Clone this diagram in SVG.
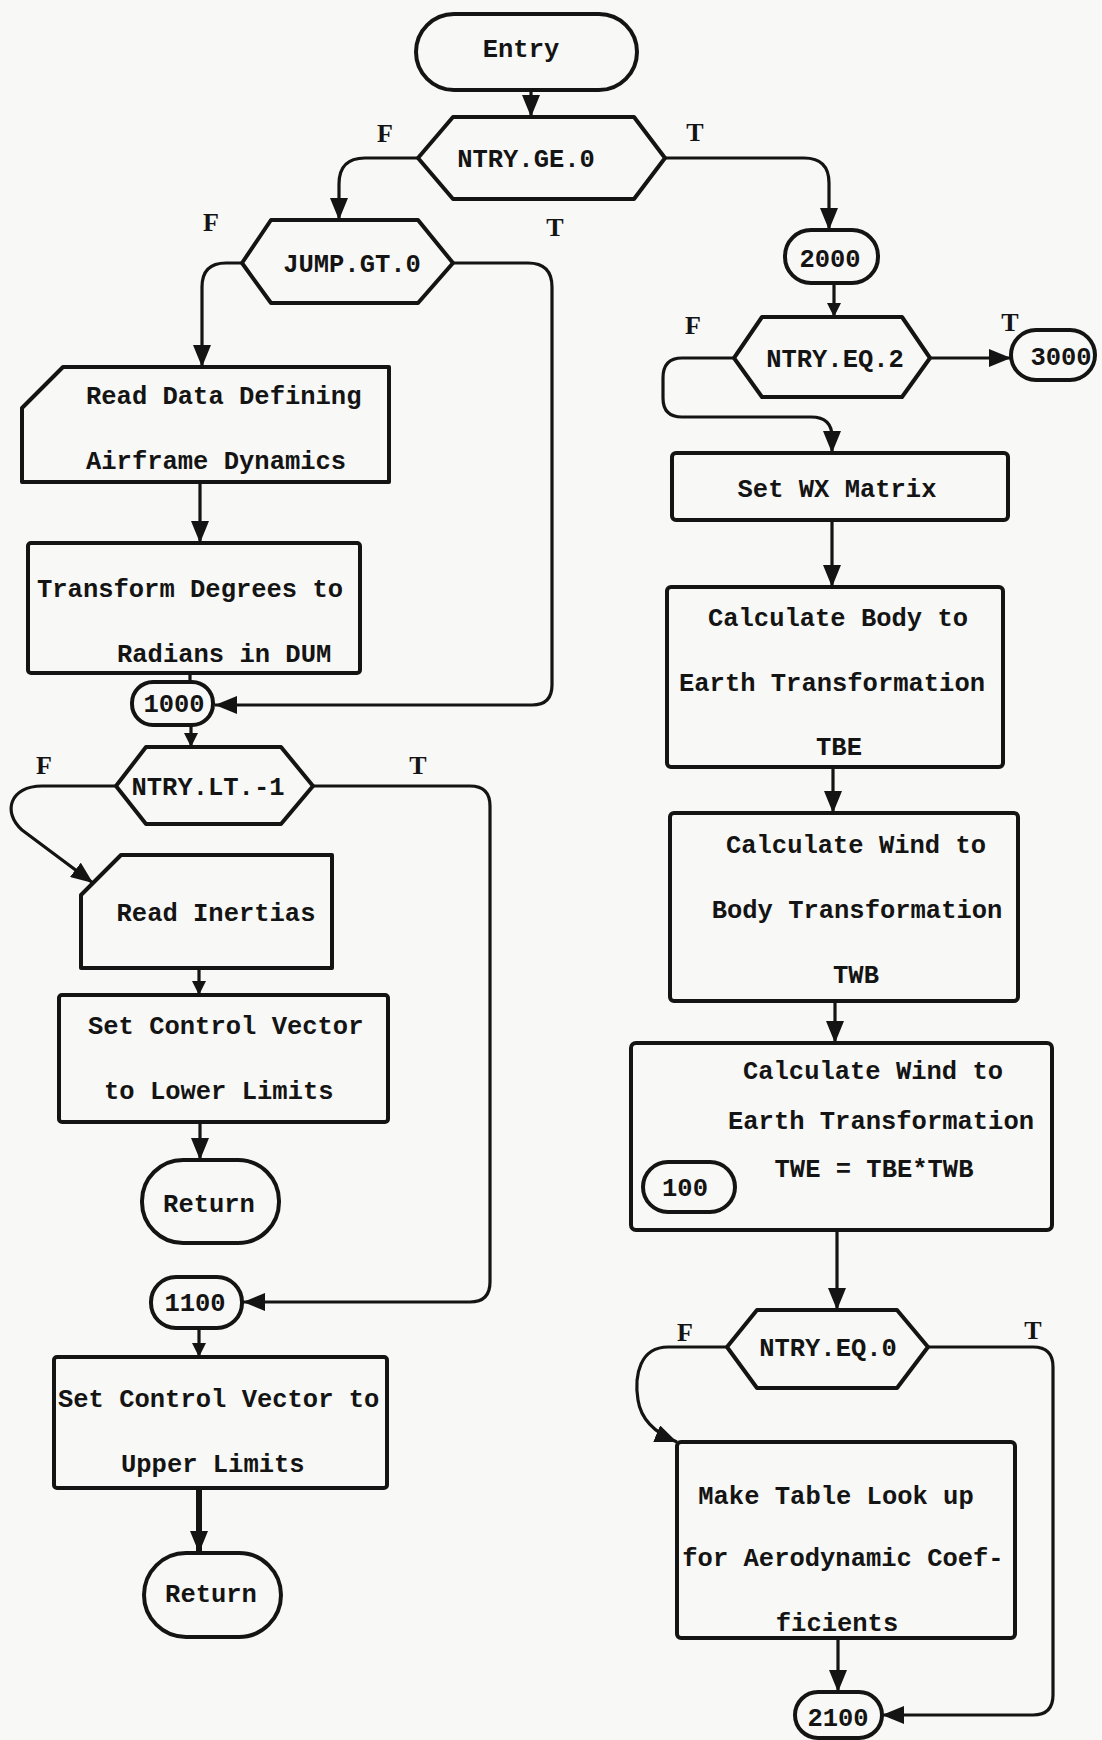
<svg xmlns="http://www.w3.org/2000/svg" width="1102" height="1740" viewBox="0 0 1102 1740">
<style>
.bg{fill:#f8f8f6}
.n{fill:none;stroke:#141414;stroke-width:4;stroke-linejoin:round}
.c{fill:none;stroke:#141414;stroke-width:3.2;stroke-linejoin:round}
.thick{stroke-width:6}
text{font-family:"Liberation Mono","DejaVu Sans Mono",monospace;font-weight:bold;font-size:25.5px;fill:#141414}
.m{text-anchor:middle}
.lbl{font-family:"Liberation Serif","DejaVu Serif",serif;font-size:26px}
</style>
<defs>
<marker id="ah" markerUnits="userSpaceOnUse" markerWidth="24" markerHeight="18" refX="22" refY="9" orient="auto" viewBox="0 0 24 18">
<path d="M0,0 L22,9 L0,18 Z" fill="#141414"/>
</marker>
<marker id="ahs" markerUnits="userSpaceOnUse" markerWidth="16" markerHeight="14" refX="14" refY="7" orient="auto" viewBox="0 0 16 14">
<path d="M0,0 L14,7 L0,14 Z" fill="#141414"/>
</marker>
</defs>
<rect class="bg" x="0" y="0" width="1102" height="1740"/>

<g id="connectors">
<path class="c" d="M531,90 L531,117" marker-end="url(#ah)"/>
<path class="c" d="M418,158 L365,158 Q339,158 339,184 L339,220" marker-end="url(#ah)"/>
<path class="c" d="M665,158 L804,158 Q829,158 829,183 L829,230" marker-end="url(#ah)"/>
<path class="c" d="M242,263 L226,263 Q202,263 202,287 L202,367" marker-end="url(#ah)"/>
<path class="c" d="M453,263 L528,263 Q552,263 552,287 L552,685 Q552,705 532,705 L215,705" marker-end="url(#ah)"/>
<path class="c" d="M200,482 L200,543" marker-end="url(#ah)"/>
<path class="c" d="M190,673 L190,682"/>
<path class="c" d="M191,725 L191,747" marker-end="url(#ahs)"/>
<path class="c" d="M116,786 L42,786 C10,786 2,812 22,830 L93,883" marker-end="url(#ah)"/>
<path class="c" d="M313,786 L470,786 Q490,786 490,806 L490,1282 Q490,1302 470,1302 L243,1302" marker-end="url(#ah)"/>
<path class="c" d="M199,968 L199,995" marker-end="url(#ahs)"/>
<path class="c" d="M200,1122 L200,1160" marker-end="url(#ah)"/>
<path class="c" d="M199,1328 L199,1357" marker-end="url(#ahs)"/>
<path class="c thick" d="M199,1488 L199,1553" marker-end="url(#ah)"/>
<path class="c" d="M834,283 L834,317" marker-end="url(#ahs)"/>
<path class="c" d="M930,358 L1011,358" marker-end="url(#ah)"/>
<path class="c" d="M734,358 L682,358 Q663,358 663,378 L663,398 Q663,417 682,417 L811,417 Q832,417 832,437 L832,453" marker-end="url(#ah)"/>
<path class="c" d="M832,520 L832,587" marker-end="url(#ah)"/>
<path class="c" d="M833,767 L833,813" marker-end="url(#ah)"/>
<path class="c" d="M835,1001 L835,1043" marker-end="url(#ah)"/>
<path class="c" d="M837,1230 L837,1310" marker-end="url(#ah)"/>
<path class="c" d="M727,1347 L668,1347 C640,1347 634,1375 638,1400 C641,1420 655,1433 677,1442" marker-end="url(#ah)"/>
<path class="c" d="M928,1347 L1033,1347 Q1053,1347 1053,1367 L1053,1695 Q1053,1715 1033,1715 L882,1715" marker-end="url(#ah)"/>
<path class="c" d="M838,1638 L838,1692" marker-end="url(#ah)"/>
</g>

<g id="labels">
<text class="lbl m" x="385" y="142">F</text>
<text class="lbl m" x="695" y="141">T</text>
<text class="lbl m" x="211" y="231">F</text>
<text class="lbl m" x="555" y="236">T</text>
<text class="lbl m" x="44" y="774">F</text>
<text class="lbl m" x="418" y="774">T</text>
<text class="lbl m" x="693" y="334">F</text>
<text class="lbl m" x="1010" y="331">T</text>
<text class="lbl m" x="685" y="1341">F</text>
<text class="lbl m" x="1033" y="1339">T</text>
</g>

<g id="entry">
<rect class="n" x="416" y="14" width="221" height="76" rx="38"/>
<text class="m" x="521" y="57">Entry</text>
</g>
<g id="ntry_ge_0">
<polygon class="n" points="418,158 453,117 634,117 665,158 634,199 453,199"/>
<text class="m" x="526" y="167">NTRY.GE.0</text>
</g>
<g id="jump_gt_0">
<polygon class="n" points="242,263 271,220 418,220 453,263 418,303 271,303"/>
<text class="m" x="352" y="272">JUMP.GT.0</text>
</g>
<g id="read_data">
<path class="n" d="M63,367 L389,367 L389,482 L22,482 L22,408 Z"/>
<text x="86" y="404">Read Data Defining</text>
<text x="86" y="469">Airframe Dynamics</text>
</g>
<g id="transform">
<rect class="n" x="28" y="543" width="332" height="130" rx="3"/>
<text x="37" y="597">Transform Degrees to</text>
<text x="117" y="662">Radians in DUM</text>
</g>
<g id="t1000">
<rect class="n" x="132" y="682" width="81" height="43" rx="21"/>
<text class="m" x="174" y="712">1000</text>
</g>
<g id="ntry_lt_m1">
<polygon class="n" points="116,786 146,747 281,747 313,786 281,824 146,824"/>
<text class="m" x="208" y="795">NTRY.LT.-1</text>
</g>
<g id="read_inertias">
<path class="n" d="M121,855 L332,855 L332,968 L81,968 L81,895 Z"/>
<text class="m" x="216" y="921">Read Inertias</text>
</g>
<g id="set_lower">
<rect class="n" x="59" y="995" width="329" height="127" rx="3"/>
<text x="88" y="1034">Set Control Vector</text>
<text x="104" y="1099">to Lower Limits</text>
</g>
<g id="return1">
<rect class="n" x="142" y="1160" width="137" height="83" rx="41"/>
<text class="m" x="209" y="1212">Return</text>
</g>
<g id="t1100">
<rect class="n" x="151" y="1277" width="91" height="51" rx="25"/>
<text class="m" x="195" y="1311">1100</text>
</g>
<g id="set_upper">
<rect class="n" x="54" y="1357" width="333" height="131" rx="3"/>
<text x="58" y="1407">Set Control Vector to</text>
<text x="121" y="1472">Upper Limits</text>
</g>
<g id="return2">
<rect class="n" x="144" y="1553" width="137" height="84" rx="42"/>
<text class="m" x="211" y="1602">Return</text>
</g>

<g id="t2000">
<rect class="n" x="785" y="230" width="93" height="53" rx="26"/>
<text class="m" x="830" y="267">2000</text>
</g>
<g id="ntry_eq_2">
<polygon class="n" points="734,358 762,317 902,317 930,358 902,397 762,397"/>
<text class="m" x="835" y="367">NTRY.EQ.2</text>
</g>
<g id="t3000">
<rect class="n" x="1011" y="330" width="84" height="50" rx="25"/>
<text class="m" x="1061" y="365">3000</text>
</g>
<g id="set_wx">
<rect class="n" x="672" y="453" width="336" height="67" rx="4"/>
<text class="m" x="837" y="497">Set WX Matrix</text>
</g>
<g id="calc_tbe">
<rect class="n" x="667" y="587" width="336" height="180" rx="4"/>
<text class="m" x="838" y="626">Calculate Body to</text>
<text class="m" x="832" y="691">Earth Transformation</text>
<text class="m" x="839" y="755">TBE</text>
</g>
<g id="calc_twb">
<rect class="n" x="670" y="813" width="348" height="188" rx="4"/>
<text class="m" x="856" y="853">Calculate Wind to</text>
<text class="m" x="857" y="918">Body Transformation</text>
<text class="m" x="856" y="983">TWB</text>
</g>
<g id="calc_twe">
<rect class="n" x="631" y="1043" width="421" height="187" rx="5"/>
<text class="m" x="873" y="1079">Calculate Wind to</text>
<text class="m" x="881" y="1129">Earth Transformation</text>
<text class="m" x="874" y="1177">TWE = TBE*TWB</text>
</g>
<g id="t100">
<rect class="n" x="643" y="1162" width="92" height="50" rx="25"/>
<text class="m" x="685" y="1196">100</text>
</g>
<g id="ntry_eq_0">
<polygon class="n" points="727,1347 757,1310 897,1310 928,1347 897,1388 757,1388"/>
<text class="m" x="828" y="1356">NTRY.EQ.0</text>
</g>
<g id="table_lookup">
<rect class="n" x="677" y="1442" width="338" height="196" rx="4"/>
<text class="m" x="836" y="1504">Make Table Look up</text>
<text class="m" x="843" y="1566">for Aerodynamic Coef-</text>
<text class="m" x="837" y="1631">ficients</text>
</g>
<g id="t2100">
<rect class="n" x="795" y="1692" width="87" height="46" rx="23"/>
<text class="m" x="838" y="1726">2100</text>
</g>
</svg>
